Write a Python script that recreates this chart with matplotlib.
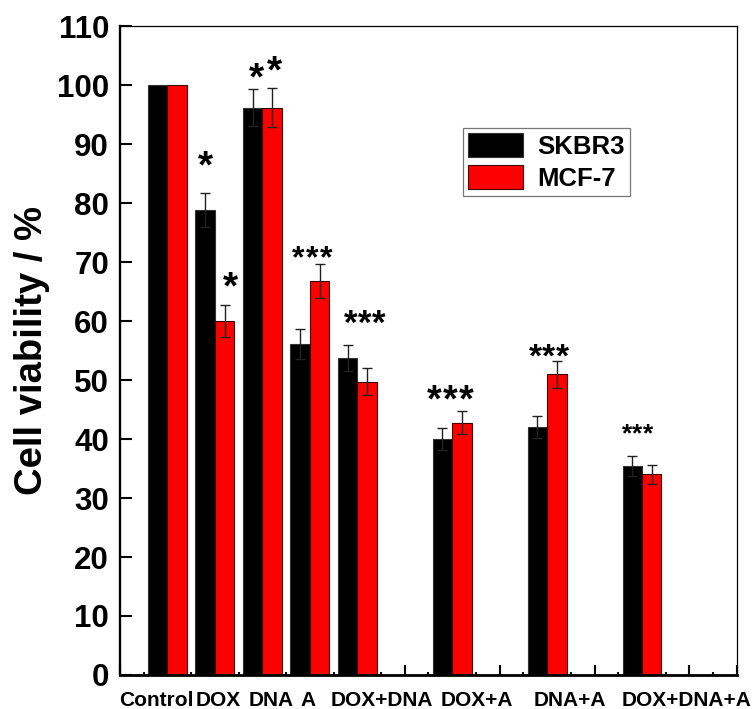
import numpy as np
import matplotlib
matplotlib.use("Agg")
import matplotlib.pyplot as plt
import matplotlib.transforms as mtransforms
from matplotlib.ticker import MultipleLocator

plt.rcParams['font.family'] = ['Liberation Sans', 'DejaVu Sans']
plt.rcParams['font.weight'] = 'bold'

groups = ['Control', 'DOX', 'DNA', 'A', 'DOX+DNA', 'DOX+A', 'DNA+A', 'DOX+DNA+A']
xpos = [0, 1, 2, 3, 4, 6, 8, 10]
skbr3 = [100, 78.8, 96.2, 56.1, 53.8, 40.0, 42.0, 35.5]
skbr3_err = [0, 2.9, 3.2, 2.5, 2.2, 1.9, 1.9, 1.7]
mcf7 = [100, 60.0, 96.2, 66.8, 49.7, 42.8, 51.0, 34.0]
mcf7_err = [0, 2.7, 3.3, 2.95, 2.3, 2.0, 2.3, 1.6]

# category labels sit a bit off the bar centres
label_x = [-0.23, 1.07, 2.18, 2.97, 4.52, 6.53, 8.48, 10.95]

# significance marks: x, baseline y, number of stars, font size, star spacing (pt)
stars = [
    (0.80, 84.4, 1, 28, 0),
    (1.33, 63.9, 1, 28, 0),
    (1.875, 99.2, 1, 28, 0),
    (2.26, 100.4, 1, 28, 0),
    (3.05, 69.2, 3, 23, 9.9),
    (4.16, 57.8, 3, 25, 10.1),
    (5.96, 44.7, 3, 27, 11.5),
    (8.03, 52.3, 3, 24, 9.7),
    (9.90, 39.6, 3, 19, 7.6),
]

w = 0.41
fig = plt.figure(figsize=(7.55, 7.09), dpi=100)
ax = fig.add_axes([0.159, 0.048, 0.817, 0.915])

x = np.array(xpos, dtype=float)
ax.bar(x - w / 2, skbr3, w, color='black', edgecolor='#333333', linewidth=0.8,
       label='SKBR3', zorder=2)
ax.bar(x + w / 2, mcf7, w, color='red', edgecolor='#400000', linewidth=0.8,
       label='MCF-7', zorder=2)

for xi, v, e in zip(x - w / 2, skbr3, skbr3_err):
    if e > 0:
        ax.errorbar(xi, v, yerr=e, fmt='none', ecolor='#222222', elinewidth=1,
                    capsize=3.6, capthick=1, zorder=3)
for xi, v, e in zip(x + w / 2, mcf7, mcf7_err):
    if e > 0:
        ax.errorbar(xi, v, yerr=e, fmt='none', ecolor='#222222', elinewidth=1,
                    capsize=3.6, capthick=1, zorder=3)

# each star drawn on its own so the gap between them can be set
for sx, sy, n, fs, step in stars:
    for k in range(n):
        dx = (k - (n - 1) / 2) * step
        tr = mtransforms.offset_copy(ax.transData, fig=fig, x=dx, y=0, units='points')
        ax.text(sx, sy, '*', transform=tr, ha='center', va='baseline', fontsize=fs,
                fontweight='bold', zorder=4)

ax.set_xlim(-1, 12)
ax.set_ylim(0, 110)
ax.set_yticks(np.arange(0, 111, 10))
ax.xaxis.set_major_locator(MultipleLocator(1))
ax.xaxis.set_minor_locator(MultipleLocator(0.5))
ax.set_xticklabels([])
ax.tick_params(axis='y', direction='in', length=8.5, width=1.5, labelsize=22.5, pad=8,
               right=False)
ax.tick_params(axis='x', which='major', direction='in', length=7, width=1.5, top=False)
ax.tick_params(axis='x', which='minor', direction='in', length=2.5, width=1.5, top=False)

ax.spines['left'].set_linewidth(1.7)
ax.spines['bottom'].set_linewidth(2.0)
ax.spines['top'].set_linewidth(0.9)
ax.spines['right'].set_linewidth(0.9)

trans = mtransforms.blended_transform_factory(ax.transData, ax.transAxes)
for lx, name in zip(label_x, groups):
    ax.text(lx, -0.048, name, transform=trans, ha='center', va='baseline',
            fontsize=15, fontweight='bold')

ax.set_ylabel('Cell viability / %', fontsize=27.5, fontweight='bold', labelpad=5)

leg = ax.legend(loc='upper left', bbox_to_anchor=(0.556, 0.843), fontsize=18.5,
                frameon=True, fancybox=False, edgecolor='#555555',
                handlelength=2.15, handleheight=1.05, labelspacing=0.25,
                handletextpad=0.55, borderpad=0.2, borderaxespad=0)
leg.get_frame().set_linewidth(0.9)

fig.savefig('out.png', dpi=100)
